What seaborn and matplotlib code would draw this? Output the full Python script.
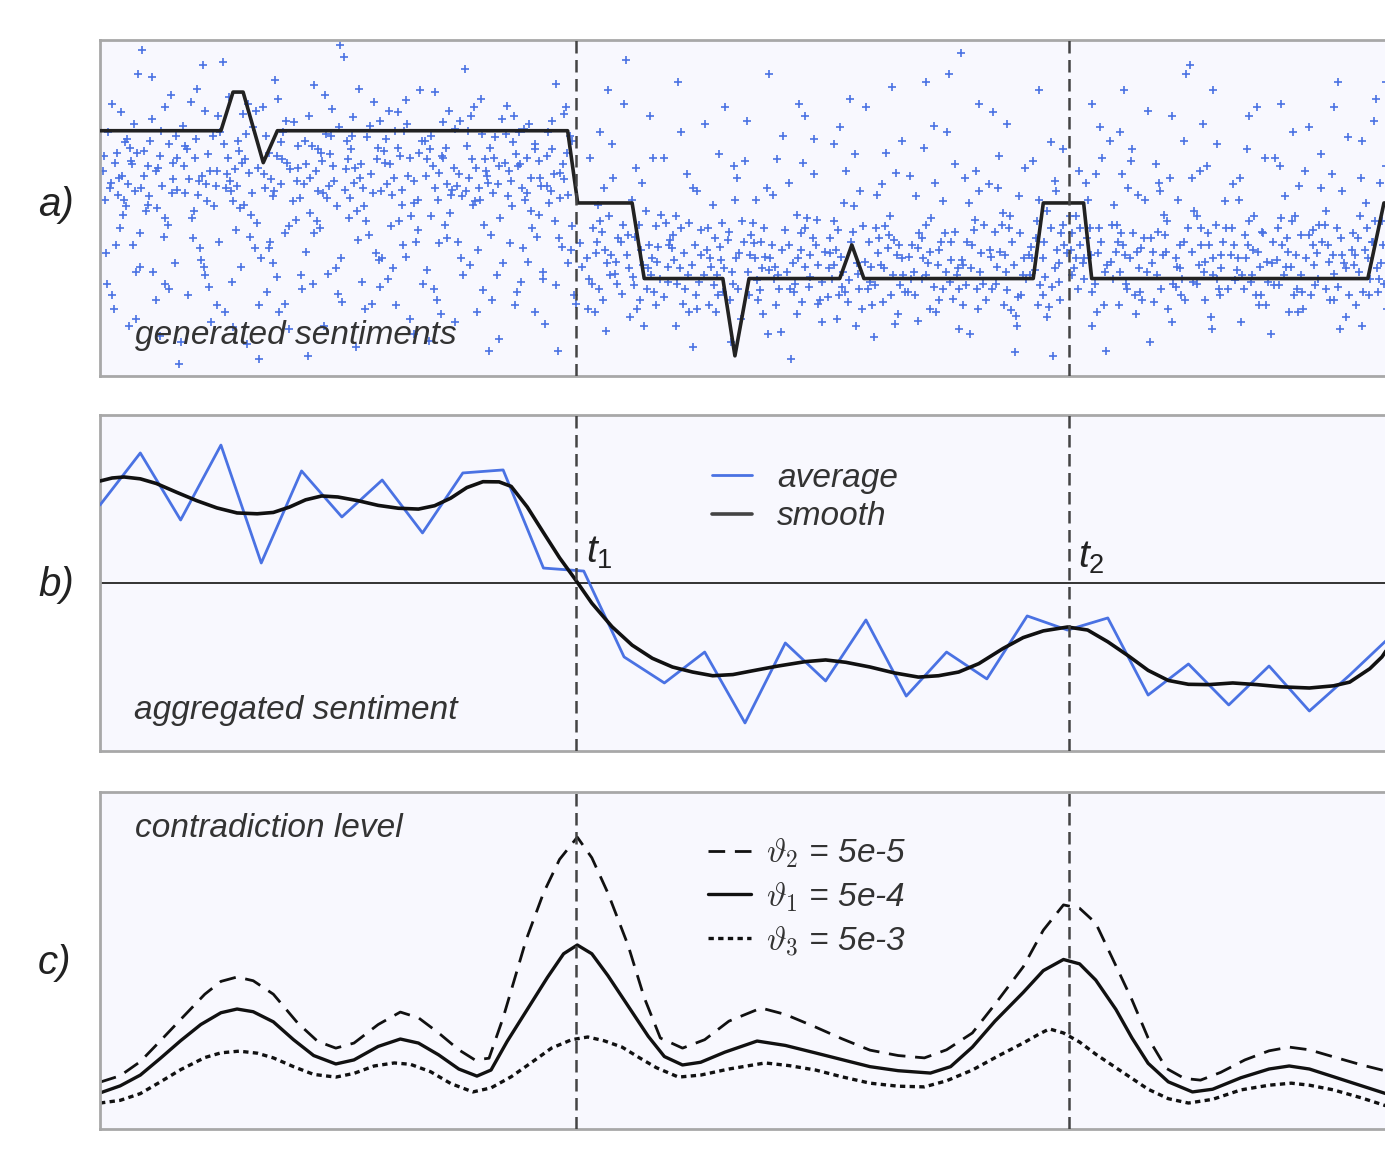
import matplotlib
matplotlib.use("Agg")
import matplotlib.pyplot as plt
import seaborn as sns
import pandas as pd

# time markers of the two changes
t1, t2 = 11.81, 24.04

# a) individual generated sentiments (time, sentiment)
sent_seg1 = [
    (0.2, .45), (0.5, -.12), (0.8, .26), (0.3, .62), (0.9, -.38), (0.6, .05), (0.1, .31), (0.7, .14), (0.4, -.22), (0.95, .80),
    (1.1, .19), (1.4, -.55), (1.7, .38), (1.2, .02), (1.9, .11), (1.5, -.76), (1.3, .53), (1.8, .27), (1.6, -.06), (1.05, .94),
    (2.2, .17), (2.5, -.31), (2.8, .43), (2.1, .09), (2.6, .58), (2.3, -.18), (2.9, .22), (2.4, .71), (2.7, -.47), (2.15, .35),
    (3.3, .04), (3.6, .29), (3.1, -.62), (3.8, .48), (3.4, .13), (3.9, -.09), (3.2, .66), (3.7, .21), (3.5, -.35), (3.05, .87),
    (4.2, .33), (4.6, -.15), (4.1, .12), (4.8, .51), (4.4, -.41), (4.9, .24), (4.3, .07), (4.7, -.72), (4.5, .39), (4.05, .60),
    (5.2, -.03), (5.5, .28), (5.8, .16), (5.1, -.26), (5.6, .44), (5.3, .73), (5.9, -.51), (5.4, .10), (5.7, .32), (5.15, -.88),
    (6.1, .23), (6.4, -.19), (6.7, .49), (6.2, .06), (6.9, .36), (6.5, -.44), (6.3, .15), (6.8, .63), (6.6, -.08), (6.05, .90),
    (7.3, .18), (7.6, -.29), (7.1, .41), (7.8, .03), (7.4, .57), (7.9, -.13), (7.2, .26), (7.7, -.66), (7.5, .11), (7.05, .34),
    (8.2, -.05), (8.5, .30), (8.8, .47), (8.1, -.37), (8.6, .14), (8.3, .69), (8.9, .20), (8.4, -.21), (8.7, .08), (8.15, -.79),
    (9.1, .37), (9.4, .12), (9.7, -.16), (9.2, .55), (9.9, .25), (9.5, -.49), (9.3, .04), (9.8, .42), (9.6, .19), (9.05, .83),
    (10.2, .16), (10.5, -.24), (10.8, .35), (10.1, .61), (10.6, .09), (10.3, -.58), (10.9, .28), (10.4, .45), (10.7, -.02), (10.15, .22),
    (11.1, .31), (11.4, .06), (11.6, -.33), (11.2, .52), (11.5, .17), (11.7, -.11), (11.3, .74), (11.05, -.69),
    (0.45, .08), (0.75, .36), (0.15, -.27), (0.55, .19), (0.85, .50), (0.35, -.60), (0.65, .01),
    (1.25, .40), (1.55, .13), (1.85, -.33), (1.45, .24), (1.75, .67), (1.15, -.02), (1.95, -.93),
    (2.35, .30), (2.65, .04), (2.95, -.20), (2.05, .49), (2.45, .16), (2.75, -.68), (2.55, .85),
    (3.45, .34), (3.75, -.04), (3.15, .20), (3.55, .56), (3.85, -.24), (3.25, .10), (3.65, -.81),
    (4.25, .17), (4.55, .45), (4.85, -.07), (4.15, -.50), (4.65, .27), (4.35, .76), (4.95, .06),
    (5.25, .37), (5.45, -.12), (5.75, .59), (5.05, .14), (5.65, -.39), (5.35, .22), (5.95, .97),
    (6.25, .43), (6.55, .01), (6.85, -.27), (6.15, .29), (6.45, .18), (6.75, -.57), (6.95, .52),
    (7.25, .08), (7.55, .46), (7.85, -.20), (7.15, -.42), (7.45, .31), (7.65, .19), (7.95, .70),
    (8.25, .25), (8.55, -.10), (8.85, .13), (8.05, .40), (8.45, -.63), (8.65, .58), (8.95, -.30),
    (9.25, .02), (9.55, .29), (9.85, -.40), (9.15, .18), (9.45, .65), (9.75, .09), (9.65, -.85),
    (10.25, .39), (10.55, .05), (10.85, -.17), (10.05, .27), (10.45, -.44), (10.65, .50), (10.95, .13),
    (11.25, .20), (11.45, -.23), (11.65, .43), (11.15, .03), (11.55, .60), (11.75, -.52),
    (0.08, .22), (0.28, .15), (0.42, .33), (0.58, -.04), (0.68, .41), (0.88, .10), (0.18, -.45), (0.78, .28), (0.52, .57), (0.98, -.15),
    (1.08, .34), (1.22, .07), (1.38, .22), (1.52, .46), (1.68, -.10), (1.82, .17), (1.92, .30), (1.32, -.38), (1.62, .60), (1.02, .12),
    (2.08, .25), (2.28, -.06), (2.38, .41), (2.52, .19), (2.68, .32), (2.82, .01), (2.92, .55), (2.18, -.52), (2.62, .14), (2.48, -.24),
    (3.08, .38), (3.22, .16), (3.38, -.13), (3.52, .27), (3.62, .44), (3.78, .09), (3.92, .24), (3.28, -.44), (3.68, .62), (3.48, .00),
    (4.08, .20), (4.22, -.20), (4.38, .31), (4.48, .14), (4.62, .52), (4.78, .04), (4.92, .37), (4.28, -.33), (4.72, .23), (4.58, -.57),
    (5.08, .40), (5.22, .18), (5.38, -.08), (5.48, .33), (5.62, .06), (5.78, .25), (5.92, .48), (5.28, -.45), (5.68, .13), (5.58, .67),
    (6.08, .11), (6.22, .35), (6.38, -.02), (6.48, .26), (6.62, .42), (6.78, .09), (6.92, -.31), (6.28, .54), (6.72, .20), (6.58, -.60),
    (7.08, .27), (7.22, -.11), (7.38, .36), (7.48, .02), (7.62, .50), (7.78, .16), (7.92, .33), (7.28, -.36), (7.72, -.05), (7.58, .64),
    (8.08, .19), (8.22, .43), (8.38, .05), (8.48, .31), (8.62, -.18), (8.78, .24), (8.92, .52), (8.28, -.48), (8.72, .11), (8.58, .36),
    (9.08, .10), (9.22, .29), (9.38, -.25), (9.48, .44), (9.62, .15), (9.78, .30), (9.92, -.06), (9.28, .60), (9.72, -.55), (9.58, .22),
    (10.08, .44), (10.22, .01), (10.38, .25), (10.48, .12), (10.62, -.32), (10.78, .38), (10.92, .18), (10.28, .55), (10.72, -.12), (10.58, .30),
    (11.08, .13), (11.22, .35), (11.38, -.18), (11.48, .26), (11.62, .08), (11.72, .40), (11.32, -.46), (11.52, .56),
    (0.12, .05), (0.38, .27), (0.62, .39), (0.82, -.22), (0.25, .12), (0.72, -.70), (0.48, .18), (0.92, .33),
    (1.18, .25), (1.42, .00), (1.58, -.17), (1.78, .09), (1.28, .78), (1.88, .43), (1.48, .31), (1.72, -.48),
    (2.12, .37), (2.42, .08), (2.58, -.35), (2.72, .22), (2.25, .63), (2.88, .13), (2.33, -.02), (2.98, .45),
    (3.12, .12), (3.42, .40), (3.58, .02), (3.72, -.17), (3.18, .30), (3.88, .58), (3.35, .23), (3.95, -.58),
    (4.12, .43), (4.32, .10), (4.52, .29), (4.68, -.11), (4.18, -.24), (4.88, .16), (4.42, .65), (4.98, -.40),
    (5.12, .26), (5.32, -.15), (5.52, .09), (5.72, .43), (5.18, .55), (5.88, .01), (5.42, .35), (5.98, -.30),
    (6.12, .40), (6.32, .24), (6.52, .12), (6.68, -.16), (6.18, -.06), (6.88, .29), (6.42, .71), (6.98, .10),
    (7.12, .14), (7.32, .46), (7.52, -.22), (7.68, .30), (7.18, .58), (7.88, .05), (7.42, -.08), (7.98, .40),
    (8.12, .29), (8.32, .12), (8.52, .51), (8.68, -.03), (8.18, .35), (8.88, -.20), (8.42, .21), (8.98, .07),
    (9.12, .46), (9.32, .24), (9.52, -.10), (9.68, .36), (9.18, -.34), (9.88, .14), (9.42, .05), (9.98, .53),
    (10.12, .07), (10.32, .32), (10.52, .47), (10.68, .18), (10.18, -.21), (10.88, -.04), (10.42, .26), (10.98, -.42),
    (11.12, .45), (11.28, -.08), (11.42, .21), (11.58, .33), (11.18, .10), (11.68, -.25),
    (0.3, -.52), (0.9, -.66), (1.6, -.45), (2.0, -.80), (2.9, -.58), (3.3, -.71), (3.95, -.90), (4.45, -.62),
    (5.0, -.48), (5.55, -.70), (6.0, -.56), (6.35, -.83), (6.95, -.47), (7.35, -.58), (7.8, -.75), (8.35, -.55),
    (8.8, -.68), (9.35, -.62), (9.9, -.78), (10.35, -.50), (10.8, -.62), (11.35, -.85), (11.8, -.57), (1.0, -.35),
    (2.6, -.40), (4.0, -.30), (5.85, -.36), (7.0, -.30), (8.0, -.45), (9.0, -.40), (10.0, -.33), (11.0, -.38),
]
sent_seg2 = [
    (11.9, -.21), (12.2, -.45), (12.5, .12), (12.8, -.32), (12.1, -.60), (12.4, -.08), (12.7, .38), (12.95, -.51), (12.3, -.27), (12.6, .70),
    (13.1, -.16), (13.4, -.55), (13.7, -.30), (13.2, .05), (13.9, -.42), (13.5, -.70), (13.3, .24), (13.8, -.11), (13.6, -.36), (13.05, .88),
    (14.2, -.24), (14.5, -.48), (14.8, .10), (14.1, -.35), (14.6, -.62), (14.3, -.05), (14.9, -.28), (14.4, .45), (14.7, -.83), (14.15, -.19),
    (15.3, -.40), (15.6, -.14), (15.1, -.58), (15.8, .18), (15.4, -.31), (15.9, -.66), (15.2, .02), (15.7, -.45), (15.5, .60), (15.05, -.25),
    (16.2, -.09), (16.6, -.37), (16.1, -.52), (16.8, .29), (16.4, -.20), (16.9, -.74), (16.3, -.43), (16.7, .08), (16.5, -.29), (16.05, .52),
    (17.2, -.33), (17.5, -.12), (17.8, -.57), (17.1, .15), (17.6, -.41), (17.3, -.04), (17.9, -.68), (17.4, -.25), (17.7, .41), (17.15, -.90),
    (18.1, -.18), (18.4, -.47), (18.7, .01), (18.2, -.34), (18.9, -.60), (18.5, .22), (18.3, -.13), (18.8, -.39), (18.6, .65), (18.05, -.53),
    (19.3, -.27), (19.6, -.05), (19.1, -.44), (19.8, -.63), (19.4, .14), (19.9, -.30), (19.2, -.77), (19.7, -.19), (19.5, .33), (19.05, -.48),
    (20.2, -.38), (20.5, -.10), (20.8, -.55), (20.1, .19), (20.6, -.26), (20.3, -.67), (20.9, .04), (20.4, -.42), (20.7, .49), (20.15, -.22),
    (21.1, -.31), (21.4, -.58), (21.7, -.07), (21.2, .26), (21.9, -.45), (21.5, -.20), (21.3, -.72), (21.8, .10), (21.6, -.36), (21.05, .80),
    (22.2, -.14), (22.5, -.49), (22.8, .07), (22.1, -.29), (22.6, -.61), (22.3, .31), (22.9, -.40), (22.4, -.03), (22.7, -.86), (22.15, .57),
    (23.1, -.23), (23.4, -.52), (23.7, .16), (23.2, -.37), (23.9, -.10), (23.5, -.65), (23.3, .05), (23.8, -.44), (23.6, .39), (23.05, -.28),
    (11.95, -.35), (12.35, .02), (12.65, -.40), (12.85, -.18), (12.15, .30), (12.55, -.73), (12.45, -.14),
    (13.25, -.46), (13.55, -.02), (13.85, -.23), (13.15, -.65), (13.45, .15), (13.75, -.50), (13.65, .55),
    (14.25, -.31), (14.55, .20), (14.85, -.44), (14.05, -.09), (14.45, -.57), (14.75, -.22), (14.35, .75),
    (15.25, -.18), (15.45, -.50), (15.75, .05), (15.15, -.35), (15.65, -.80), (15.85, -.27), (15.35, .32),
    (16.25, -.30), (16.55, .12), (16.85, -.48), (16.15, -.16), (16.45, -.63), (16.75, -.35), (16.95, .43),
    (17.25, -.45), (17.45, .27), (17.75, -.22), (17.05, -.38), (17.55, -.06), (17.85, -.55), (17.35, .62),
    (18.25, -.25), (18.55, -.56), (18.85, .10), (18.15, -.42), (18.45, .03), (18.75, -.70), (18.35, .48),
    (19.25, -.12), (19.45, -.36), (19.75, .21), (19.15, -.58), (19.55, -.24), (19.85, -.46), (19.65, .72),
    (20.25, .07), (20.55, -.33), (20.85, -.20), (20.05, -.50), (20.45, .36), (20.75, -.62), (20.95, -.15),
    (21.25, -.40), (21.55, .03), (21.85, -.27), (21.15, -.54), (21.45, .18), (21.75, -.48), (21.35, .92),
    (22.25, -.35), (22.55, -.12), (22.85, -.52), (22.05, .14), (22.45, -.28), (22.75, -.70), (22.95, .24),
    (23.25, -.08), (23.45, -.41), (23.75, -.25), (23.15, .28), (23.55, -.59), (23.85, -.15), (23.65, -.88),
    (12.08, -.30), (12.22, -.12), (12.38, -.48), (12.52, -.25), (12.62, -.05), (12.78, -.39), (12.92, -.20), (12.28, -.62), (12.72, .18), (12.58, -.33),
    (13.08, -.28), (13.22, -.41), (13.38, -.10), (13.48, -.34), (13.62, -.22), (13.78, -.58), (13.92, -.04), (13.28, -.17), (13.72, .30), (13.58, -.48),
    (14.08, -.44), (14.22, -.16), (14.38, -.36), (14.48, -.27), (14.62, -.09), (14.78, -.52), (14.92, -.13), (14.28, -.70), (14.72, .12), (14.58, -.40),
    (15.08, -.12), (15.22, -.46), (15.38, -.23), (15.48, -.36), (15.62, -.55), (15.78, -.30), (15.92, -.08), (15.28, -.62), (15.72, .25), (15.58, -.19),
    (16.08, -.38), (16.22, -.21), (16.38, -.49), (16.48, -.12), (16.62, -.30), (16.78, -.58), (16.92, -.25), (16.28, .05), (16.72, -.42), (16.58, -.75),
    (17.08, -.22), (17.22, -.50), (17.38, -.15), (17.48, -.35), (17.62, -.28), (17.78, -.07), (17.92, -.44), (17.28, -.63), (17.72, .20), (17.58, -.47),
    (18.08, -.36), (18.22, -.08), (18.38, -.29), (18.48, -.50), (18.62, -.20), (18.78, -.33), (18.92, -.11), (18.28, -.66), (18.72, .32), (18.58, -.43),
    (19.08, -.20), (19.22, -.46), (19.38, -.34), (19.48, -.11), (19.62, -.52), (19.78, -.28), (19.92, -.40), (19.28, .08), (19.72, -.69), (19.58, -.16),
    (20.08, -.29), (20.22, -.52), (20.38, -.18), (20.48, -.40), (20.62, -.06), (20.78, -.34), (20.92, -.48), (20.28, -.24), (20.72, .15), (20.58, -.60),
    (21.08, -.44), (21.22, -.14), (21.38, -.31), (21.48, -.46), (21.62, -.22), (21.78, -.60), (21.92, -.10), (21.28, -.36), (21.72, .22), (21.58, -.75),
    (22.08, -.25), (22.22, -.45), (22.38, -.10), (22.48, -.38), (22.62, -.20), (22.78, -.53), (22.92, -.30), (22.28, .12), (22.72, -.64), (22.58, -.05),
    (23.08, -.40), (23.22, -.18), (23.38, -.30), (23.48, -.02), (23.62, -.47), (23.78, -.33), (23.92, -.22), (23.28, -.58), (23.72, .10), (23.58, -.12),
    (12.12, -.42), (12.32, -.20), (12.48, -.55), (12.68, -.28), (12.82, -.45), (12.98, -.10),
    (13.12, -.36), (13.32, -.60), (13.42, -.25), (13.68, -.40), (13.82, -.32), (13.98, -.53),
    (14.12, -.22), (14.32, -.45), (14.42, -.12), (14.68, -.34), (14.82, -.60), (14.98, -.40),
    (15.12, -.30), (15.32, -.52), (15.42, -.09), (15.68, -.38), (15.82, -.48), (15.98, -.20),
    (16.12, -.28), (16.32, -.55), (16.42, -.36), (16.68, -.22), (16.82, -.40), (16.98, -.13),
    (17.12, -.48), (17.32, -.30), (17.42, -.56), (17.68, -.18), (17.82, -.34), (17.98, -.26),
    (18.12, -.27), (18.32, -.52), (18.42, -.38), (18.68, -.14), (18.82, -.48), (18.98, -.32),
    (19.12, -.35), (19.32, -.18), (19.42, -.56), (19.68, -.40), (19.82, -.22), (19.98, -.50),
    (20.12, -.42), (20.32, -.15), (20.42, -.30), (20.68, -.47), (20.82, -.25), (20.98, -.38),
    (21.12, -.20), (21.32, -.48), (21.42, -.34), (21.68, -.13), (21.82, -.38), (21.98, -.55),
    (22.12, -.48), (22.32, -.26), (22.42, -.58), (22.68, -.34), (22.82, -.15), (22.98, -.42),
    (23.12, -.30), (23.32, -.46), (23.42, -.20), (23.68, -.36), (23.82, -.55), (23.98, -.27),
    (12.4, .45), (13.0, .62), (14.0, .30), (15.0, .50), (16.0, .28), (16.6, .80), (17.5, .55), (18.2, .38),
    (19.0, .60), (19.9, .40), (20.5, .75), (21.0, .45), (21.8, .62), (22.5, .50), (23.3, .70), (23.9, .35),
]
sent_seg3 = [
    (24.1, -.15), (24.4, -.42), (24.7, .20), (24.2, -.30), (24.9, -.58), (24.5, .05), (24.3, -.22), (24.8, .48), (24.6, -.70), (24.05, -.05),
    (25.2, -.26), (25.5, .12), (25.8, -.50), (25.1, -.10), (25.6, .35), (25.3, -.38), (25.9, -.18), (25.4, .70), (25.7, -.63), (25.15, .02),
    (26.1, -.33), (26.4, -.04), (26.7, -.47), (26.2, .26), (26.9, -.20), (26.5, -.60), (26.3, .10), (26.8, -.36), (26.6, .55), (26.05, -.80),
    (27.3, -.12), (27.6, -.40), (27.1, .18), (27.8, -.28), (27.4, -.55), (27.9, .04), (27.2, -.45), (27.7, .38), (27.5, -.22), (27.05, .85),
    (28.2, -.37), (28.5, -.08), (28.8, -.52), (28.1, .14), (28.6, -.25), (28.3, -.68), (28.9, .30), (28.4, -.16), (28.7, .60), (28.15, -.43),
    (29.1, -.20), (29.4, .07), (29.7, -.48), (29.2, -.31), (29.9, .22), (29.5, -.62), (29.3, -.06), (29.8, -.40), (29.6, .45), (29.05, -.75),
    (30.2, -.27), (30.5, -.55), (30.8, .10), (30.1, -.13), (30.6, -.39), (30.3, .32), (30.9, -.65), (30.4, -.02), (30.7, .75), (30.15, -.46),
    (31.1, -.34), (31.4, .03), (31.7, -.50), (31.2, -.18), (31.9, .25), (31.5, -.42), (31.3, -.70), (31.8, -.08), (31.6, .52), (31.05, -.25),
    (24.25, -.48), (24.55, -.12), (24.85, .30), (24.15, -.36), (24.45, .15), (24.75, -.27), (24.95, -.85),
    (25.25, -.20), (25.45, -.45), (25.75, .08), (25.05, .40), (25.55, -.30), (25.85, -.55), (25.35, .20),
    (26.25, -.14), (26.55, .18), (26.85, -.42), (26.15, -.56), (26.45, -.26), (26.75, .05), (26.95, .80),
    (27.25, -.34), (27.45, .25), (27.75, -.48), (27.15, -.02), (27.55, -.65), (27.85, -.20), (27.35, .50),
    (28.25, .05), (28.55, -.44), (28.85, -.15), (28.05, -.28), (28.45, .35), (28.75, -.58), (28.95, -.32),
    (29.25, -.46), (29.45, -.18), (29.75, .13), (29.15, .30), (29.55, -.35), (29.85, -.60), (29.65, -.05),
    (30.25, -.10), (30.55, .20), (30.85, -.33), (30.05, -.52), (30.45, -.22), (30.75, -.72), (30.95, .42),
    (31.25, -.05), (31.45, -.30), (31.75, .15), (31.15, -.58), (31.55, -.20), (31.85, -.45), (31.65, .65),
    (24.08, -.25), (24.22, -.05), (24.38, -.33), (24.48, -.18), (24.62, -.50), (24.78, -.12), (24.92, -.38), (24.28, .22), (24.72, -.62), (24.58, -.28),
    (25.08, -.32), (25.22, -.10), (25.38, -.22), (25.48, -.48), (25.62, -.15), (25.78, -.36), (25.92, .05), (25.28, -.58), (25.72, -.26), (25.58, .28),
    (26.08, -.18), (26.22, -.40), (26.38, -.28), (26.48, -.08), (26.62, -.45), (26.78, -.22), (26.92, -.55), (26.28, .15), (26.72, -.35), (26.58, -.68),
    (27.08, -.26), (27.22, -.05), (27.38, -.38), (27.48, -.15), (27.62, -.30), (27.78, -.52), (27.92, -.12), (27.28, .22), (27.72, -.42), (27.58, -.72),
    (28.08, -.12), (28.22, -.30), (28.38, -.48), (28.48, -.22), (28.62, -.05), (28.78, -.35), (28.92, -.58), (28.28, .18), (28.72, -.26), (28.58, -.40),
    (29.08, -.33), (29.22, -.12), (29.38, -.40), (29.48, -.26), (29.62, -.52), (29.78, -.16), (29.92, -.30), (29.28, .25), (29.72, -.62), (29.58, -.08),
    (30.08, -.22), (30.22, -.42), (30.38, -.10), (30.48, -.32), (30.62, -.55), (30.78, -.18), (30.92, -.36), (30.28, .12), (30.72, -.47), (30.58, -.28),
    (31.08, -.15), (31.22, -.38), (31.38, -.25), (31.48, -.52), (31.62, -.08), (31.78, -.33), (31.92, -.60), (31.28, .18), (31.72, -.42), (31.58, -.20),
    (24.12, -.40), (24.32, -.12), (24.42, -.30), (24.68, -.45), (24.82, -.20), (24.98, -.34),
    (25.12, -.42), (25.32, -.15), (25.42, -.28), (25.68, -.52), (25.82, -.24), (25.98, -.38),
    (26.12, -.26), (26.32, -.48), (26.42, -.16), (26.68, -.30), (26.82, -.52), (26.98, -.12),
    (27.12, -.44), (27.32, -.22), (27.42, -.32), (27.68, -.10), (27.82, -.36), (27.98, -.48),
    (28.12, -.22), (28.32, -.40), (28.42, -.30), (28.68, -.52), (28.82, -.14), (28.98, -.44),
    (29.12, -.46), (29.32, -.22), (29.42, -.35), (29.68, -.28), (29.82, -.50), (29.98, -.16),
    (30.12, -.34), (30.32, -.20), (30.42, -.48), (30.68, -.12), (30.82, -.28), (30.98, -.52),
    (31.12, -.28), (31.32, -.50), (31.42, -.12), (31.68, -.36), (31.82, -.22), (31.98, -.45),
    (24.6, .62), (25.3, .45), (26.0, .58), (26.9, .40), (27.6, .70), (28.5, .55), (29.3, .62),
    (30.0, .48), (30.6, .60), (31.3, .40), (31.9, .75),
]

# a) underlying true sentiment (step-like)
true_t = [0, 3.0, 3.3, 3.55, 4.05, 4.4, 11.6, 11.85, 13.2, 13.5, 15.45, 15.75, 16.1,
          18.35, 18.65, 18.95, 23.15, 23.4, 24.4, 24.6, 31.45, 31.85, 32]
true_v = [.46, .46, .69, .69, .27, .46, .46, .03, .03, -.42, -.42, -.88, -.42,
          -.42, -.22, -.42, -.42, .03, .03, -.42, -.42, .03, .03]

# b) aggregated sentiment per time step
avg_v = [.464, .774, .375, .821, .119, .667, .393, .613, .298, .655, .673, .089, .071,
         -.440, -.595, -.411, -.833, -.357, -.583, -.220, -.673, -.411, -.571, -.196,
         -.280, -.208, -.667, -.482, -.726, -.494, -.762, -.548, -.321]
avg_t = list(range(len(avg_v)))

smooth_t = [0, .3, .6, 1.0, 1.4, 1.9, 2.4, 2.9, 3.4, 3.9, 4.3, 4.7, 5.1, 5.5, 5.9, 6.4,
            6.9, 7.4, 7.9, 8.3, 8.7, 9.1, 9.5, 9.9, 10.2, 10.6, 11.0, 11.4, 11.8, 12.2,
            12.7, 13.2, 13.7, 14.2, 14.7, 15.2, 15.7, 16.2, 16.8, 17.5, 18.0, 18.5, 19.1,
            19.7, 20.3, 20.8, 21.3, 21.8, 22.4, 22.9, 23.4, 24.0, 24.5, 25.0, 25.5, 26.0,
            26.5, 27.0, 27.5, 28.1, 28.7, 29.3, 30.0, 30.6, 31.0, 31.5, 31.8, 32.0]
smooth_v = [.607, .625, .631, .620, .592, .540, .490, .447, .417, .412, .420, .452, .495,
            .518, .512, .490, .462, .445, .440, .460, .505, .568, .603, .602, .575, .452,
            .300, .150, .018, -.120, -.260, -.370, -.448, -.500, -.530, -.552, -.545,
            -.522, -.495, -.468, -.458, -.472, -.500, -.535, -.560, -.552, -.530, -.480,
            -.390, -.325, -.285, -.262, -.280, -.350, -.432, -.520, -.580, -.603, -.605,
            -.595, -.605, -.618, -.625, -.612, -.590, -.510, -.440, -.369]

# c) contradiction level for three thresholds
c1_t = [0, .5, 1.0, 1.5, 2.0, 2.5, 3.0, 3.4, 3.8, 4.3, 4.8, 5.3, 5.85, 6.3, 6.9, 7.45,
        7.9, 8.4, 8.9, 9.35, 9.7, 10.1, 10.6, 11.1, 11.5, 11.84, 12.2, 12.6, 13.1, 13.6,
        14.0, 14.45, 14.9, 15.5, 16.3, 17.0, 17.74, 18.5, 19.1, 19.8, 20.6, 21.1, 21.64,
        22.2, 22.9, 23.4, 23.9, 24.3, 24.7, 25.2, 25.6, 26.0, 26.5, 27.1, 27.6, 28.3,
        29.0, 29.5, 30.0, 30.6, 31.3, 32.0]
theta1 = [.107, .128, .160, .210, .262, .310, .345, .356, .348, .318, .265, .218, .193,
          .205, .245, .267, .255, .220, .178, .157, .175, .260, .355, .450, .520, .546,
          .520, .455, .365, .275, .215, .190, .198, .228, .261, .248, .226, .203, .185,
          .173, .166, .185, .243, .320, .405, .470, .503, .490, .442, .355, .270, .195,
          .140, .110, .118, .152, .178, .187, .178, .155, .128, .101]
c2_t = [0, .5, 1.0, 1.5, 2.0, 2.6, 3.0, 3.4, 3.8, 4.3, 4.9, 5.4, 5.85, 6.3, 6.9, 7.45,
        7.9, 8.4, 8.9, 9.3, 9.65, 10.0, 10.57, 11.0, 11.4, 11.84, 12.2, 12.6, 13.1, 13.5,
        13.9, 14.45, 15.0, 15.6, 16.4, 17.0, 17.74, 18.4, 19.1, 19.8, 20.45, 21.0, 21.64,
        22.2, 22.9, 23.4, 23.9, 24.3, 24.7, 25.1, 25.6, 26.0, 26.45, 26.9, 27.3, 27.8,
        28.4, 29.0, 29.5, 30.0, 30.6, 31.3, 32.0]
theta2 = [.139, .158, .200, .262, .325, .400, .438, .451, .440, .400, .315, .260, .240,
          .255, .310, .347, .330, .285, .235, .205, .210, .330, .561, .700, .800, .866,
          .805, .700, .545, .390, .270, .240, .265, .320, .359, .340, .303, .268, .234,
          .218, .211, .235, .285, .370, .481, .590, .665, .655, .611, .510, .383, .270,
          .180, .150, .145, .168, .205, .232, .243, .235, .214, .190, .169]
c3_t = [0, .5, 1.0, 1.5, 2.0, 2.6, 3.0, 3.45, 3.9, 4.3, 4.8, 5.3, 5.85, 6.3, 6.8, 7.3,
        7.7, 8.2, 8.7, 9.25, 9.7, 10.2, 10.7, 11.2, 11.7, 12.1, 12.5, 12.95, 13.4, 13.8,
        14.35, 14.9, 15.6, 16.5, 17.1, 17.75, 18.4, 19.1, 19.8, 20.45, 21.0, 21.64, 22.3,
        22.9, 23.3, 23.55, 23.9, 24.3, 24.7, 25.1, 25.6, 26.0, 26.5, 27.0, 27.6, 28.3,
        29.0, 29.55, 30.0, 30.6, 31.3, 32.0]
theta3 = [.077, .085, .105, .140, .176, .212, .226, .231, .225, .211, .185, .162, .154,
          .165, .187, .196, .192, .170, .135, .110, .122, .155, .197, .240, .265, .273,
          .262, .243, .210, .182, .154, .160, .178, .196, .188, .175, .155, .136, .127,
          .125, .143, .175, .218, .255, .282, .297, .285, .258, .222, .190, .150, .118,
          .090, .077, .088, .116, .130, .136, .130, .116, .092, .065]

sns.set_theme(style="white")
plt.rcParams["font.family"] = ["Liberation Sans", "DejaVu Sans"]
plt.rcParams["mathtext.fontset"] = "custom"
plt.rcParams["mathtext.it"] = "Liberation Sans:italic"
plt.rcParams["mathtext.rm"] = "Liberation Sans"
plt.rcParams["mathtext.sf"] = "Liberation Sans"

BLUE = "#4a72e3"
TXT = "#333333"
BG = "#f8f8fe"

fig = plt.figure(figsize=(13.85, 11.55), dpi=100)
W = 1290 / 1385
ax_a = fig.add_axes([100 / 1385, 1 - 376 / 1155, W, 336 / 1155])
ax_b = fig.add_axes([100 / 1385, 1 - 751 / 1155, W, 336 / 1155])
ax_c = fig.add_axes([100 / 1385, 1 - 1129 / 1155, W, 337 / 1155])

for ax in (ax_a, ax_b, ax_c):
    ax.set_facecolor(BG)
    for s in ax.spines.values():
        s.set_color("#a8a8a8")
        s.set_linewidth(2)
    ax.set_xlim(0, 32)

# ---- a) generated sentiments
pts = pd.DataFrame(sent_seg1 + sent_seg2 + sent_seg3, columns=["t", "s"])
sns.scatterplot(data=pts, x="t", y="s", marker="+", s=26, color=BLUE,
                linewidth=1.2, ax=ax_a, zorder=2)
sns.lineplot(x=true_t, y=true_v, color="#222222", lw=2.6, sort=False,
             estimator=None, ax=ax_a, zorder=3)
ax_a.set_ylim(-1, 1)
ax_a.text(0.027, 0.12, "generated sentiments", transform=ax_a.transAxes,
          fontsize=24, style="italic", color=TXT, va="center", zorder=4)

# ---- b) aggregated sentiment
ax_b.axhline(0, color="#333333", lw=1.4, zorder=1)
sns.lineplot(x=avg_t, y=avg_v, color=BLUE, lw=2.0, sort=False, estimator=None,
             ax=ax_b, label="average", zorder=3)
sns.lineplot(x=smooth_t, y=smooth_v, color="#111111", lw=2.6, sort=False,
             estimator=None, ax=ax_b, label="smooth", zorder=4)
ax_b.set_ylim(-1, 1)
leg = ax_b.legend(loc="center left", bbox_to_anchor=(0.4744, 0.754), frameon=False,
                  fontsize=24, handlelength=1.2, handletextpad=0.75,
                  labelspacing=0.22, borderpad=0, borderaxespad=0)
for txt in leg.get_texts():
    txt.set_style("italic")
    txt.set_color(TXT)
leg.get_lines()[1].set_color("#444444")
ax_b.text(0.026, 0.122, "aggregated sentiment", transform=ax_b.transAxes,
          fontsize=24, style="italic", color=TXT, va="center")
ax_b.text(12.05, 0.18, r"$t_1$", fontsize=28, color="#222222", va="center")
ax_b.text(24.25, 0.15, r"$t_2$", fontsize=28, color="#222222", va="center")

# ---- c) contradiction level
sns.lineplot(x=c2_t, y=theta2, color="#111111", lw=2.0, linestyle=(0, (6, 3.5)),
             sort=False, estimator=None, ax=ax_c, label=r"$\vartheta_2$ = 5e-5")
sns.lineplot(x=c1_t, y=theta1, color="#111111", lw=2.4, sort=False,
             estimator=None, ax=ax_c, label=r"$\vartheta_1$ = 5e-4")
sns.lineplot(x=c3_t, y=theta3, color="#111111", lw=2.4, linestyle=(0, (1.6, 1.3)),
             sort=False, estimator=None, ax=ax_c, label=r"$\vartheta_3$ = 5e-3")
ax_c.set_ylim(0, 1)
leg = ax_c.legend(loc="center left", bbox_to_anchor=(0.4713, 0.688), frameon=False,
                  fontsize=24, handlelength=1.3, handletextpad=0.45,
                  labelspacing=0.3, borderpad=0, borderaxespad=0)
for txt in leg.get_texts():
    txt.set_style("italic")
    txt.set_color(TXT)
    txt.set_math_fontfamily("cm")
ax_c.text(0.027, 0.893, "contradiction level", transform=ax_c.transAxes,
          fontsize=24, style="italic", color=TXT, va="center")

# change points across all panels
for ax in (ax_a, ax_b, ax_c):
    for t in (t1, t2):
        ax.axvline(t, color="#444444", lw=1.8, linestyle=(0, (5, 2.6)), zorder=5)
    ax.set_xticks([])
    ax.set_yticks([])
    ax.set_xlabel("")
    ax.set_ylabel("")

for lab, yc in (("a)", 205), ("b)", 585), ("c)", 963)):
    fig.text(38 / 1385, 1 - yc / 1155, lab, fontsize=29, style="italic",
             color="#222222", va="center", ha="left")

fig.savefig("out.png", dpi=100, facecolor="white")
